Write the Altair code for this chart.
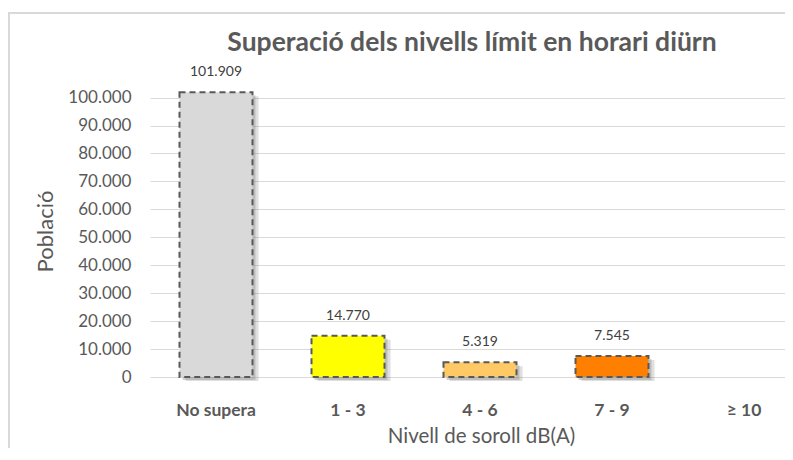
import altair as alt
import pandas as pd

categories = ["No supera", "1 - 3", "4 - 6", "7 - 9", "≥ 10"]
values = [101909, 14770, 5319, 7545, 0]
labels = ["101.909", "14.770", "5.319", "7.545", ""]
colors = ["#D9D9D9", "#FFFF00", "#FFC966", "#FF7F00", "#FFFFFF"]
y_ticks = [0, 10000, 20000, 30000, 40000, 50000, 60000, 70000, 80000, 90000, 100000]
title_text = "Superació dels nivells límit en horari diürn"

df = pd.DataFrame({"cat": categories, "val": values, "lab": labels, "col": colors})

W, H = 635, 285
FONT = "Lato"
GRAY = "#595959"

xscale = alt.Scale(domain=categories, range=[0, 660], paddingInner=0.447, paddingOuter=0.2235)
yscale = alt.Scale(domain=[0, 102000], nice=False)

X = alt.X(
    "cat:N",
    scale=xscale,
    sort=categories,
    title="Nivell de soroll dB(A)",
    axis=alt.Axis(
        domain=False, ticks=False, grid=False, labelAngle=0, labelPadding=24,
        labelFont=FONT, labelFontSize=17.5, labelFontWeight="bold", labelColor=GRAY,
        titleFont=FONT, titleFontSize=20.5, titleFontWeight="normal", titleColor=GRAY,
        titleX=331, titleY=59, titleBaseline="middle",
    ),
)
Y = alt.Y(
    "val:Q",
    scale=yscale,
    title="Població",
    axis=alt.Axis(
        values=y_ticks,
        labelExpr="replace(format(datum.value, ','), ',', '.')",
        labelOverlap=False,
        domain=False, ticks=False, labelPadding=19,
        gridColor="#D9D9D9", gridWidth=1,
        labelFont=FONT, labelFontSize=17, labelColor=GRAY,
        titleFont=FONT, titleFontSize=22, titleFontWeight="normal", titleColor=GRAY,
        titleX=-105, titleY=139, titleAngle=-90, titleBaseline="middle", titleAlign="center",
    ),
)

base = alt.Chart(df)

shadow1 = base.transform_filter("datum.val > 0").mark_bar(
    color="#7F7F7F", opacity=0.25, xOffset=6, yOffset=4
).encode(x=X, y=Y)
shadow2 = base.transform_filter("datum.val > 0").mark_bar(
    color="#7F7F7F", opacity=0.35, xOffset=3, yOffset=3
).encode(x=X, y=Y)

bars = base.transform_filter("datum.val > 0").mark_bar(
    stroke="#595959", strokeWidth=2, strokeDash=[6, 4]
).encode(
    x=X,
    y=Y,
    color=alt.Color("col:N", scale=None, legend=None),
)

text = base.transform_filter("datum.val > 0").mark_text(
    dy=-20, baseline="middle", font=FONT, fontSize=14, color="#404040"
).encode(x=X, y=Y, text="lab:N")

one = pd.DataFrame({"t": [title_text]})
title = alt.Chart(one).mark_text(
    font=FONT, fontSize=26.5, fontWeight="bold", color=GRAY, baseline="alphabetic", align="center"
).encode(x=alt.value(322), y=alt.value(-41), text="t:N")

frame = alt.Chart(one).mark_rect(fill=None, fillOpacity=0, stroke="#D9D9D9", strokeWidth=2).encode(
    x=alt.value(-141), x2=alt.value(W + 60), y=alt.value(-79), y2=alt.value(H + 200)
)

chart = alt.layer(frame, shadow1, shadow2, bars, text, title).properties(
    width=W,
    height=H,
    autosize=alt.AutoSizeParams(type="none"),
    padding={"left": 142, "top": 84, "right": 0, "bottom": 71},
).configure_view(stroke=None)

chart.save("out.html", embed_options={"renderer": "svg", "actions": False})
